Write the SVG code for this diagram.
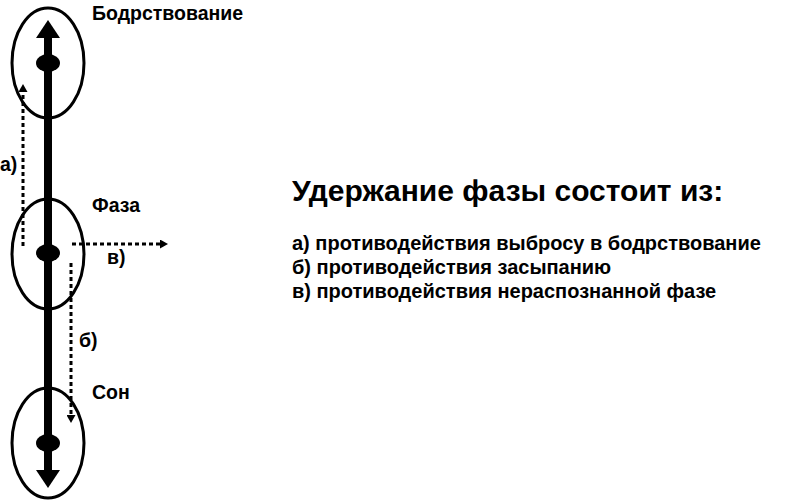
<svg xmlns="http://www.w3.org/2000/svg" width="800" height="500" viewBox="0 0 800 500">
<defs>
<style>
.ell{fill:none;stroke:#000;stroke-width:3}
.dot{fill:#000}
.main{stroke:#000;stroke-width:8;fill:none}
.dash{stroke:#000;stroke-width:3;fill:none;stroke-dasharray:4 3}
.lbl{font-family:"Liberation Sans",Arial,sans-serif;font-weight:bold;font-size:19.5px;fill:#000}
.title{font-family:"Liberation Sans",Arial,sans-serif;font-weight:bold;font-size:30px;fill:#000}
.item{font-family:"Liberation Sans",Arial,sans-serif;font-weight:bold;font-size:20px;fill:#000}
</style>
<marker id="small" markerWidth="8" markerHeight="9" refX="0" refY="4.5" orient="auto" markerUnits="userSpaceOnUse" viewBox="0 0 8 9">
<path d="M0,0 L8,4.5 L0,9 Z" fill="#000"/>
</marker>
</defs>
<rect width="800" height="500" fill="#fff"/>
<g id="connectors">
<line class="main" x1="48" y1="443" x2="48" y2="37"/>
<path d="M48,20 L36,38 L60,38 Z" fill="#000"/>
<line class="main" x1="48" y1="443" x2="48" y2="470"/>
<path d="M48,488 L36,470 L60,470 Z" fill="#000"/>
<line class="dash" x1="23" y1="246" x2="23" y2="92" marker-end="url(#small)"/>
<line class="dash" x1="72" y1="244" x2="160" y2="244" marker-end="url(#small)"/>
<line class="dash" x1="71" y1="263" x2="71" y2="415" marker-end="url(#small)"/>
</g>
<g id="node-wake">
<ellipse class="ell" cx="48" cy="63" rx="36" ry="55"/>
<ellipse class="dot" cx="48" cy="63" rx="12" ry="9"/>
<text class="lbl" x="92" y="20">Бодрствование</text>
</g>
<g id="node-phase">
<ellipse class="ell" cx="48" cy="254" rx="36" ry="55"/>
<ellipse class="dot" cx="48" cy="253" rx="12" ry="9"/>
<text class="lbl" x="92" y="212">Фаза</text>
</g>
<g id="node-sleep">
<ellipse class="ell" cx="48" cy="443" rx="36" ry="55"/>
<ellipse class="dot" cx="48" cy="443" rx="12" ry="9"/>
<text class="lbl" x="92" y="399">Сон</text>
</g>
<g id="edge-labels">
<text class="lbl" x="0" y="171">а)</text>
<text class="lbl" x="107" y="264">в)</text>
<text class="lbl" x="79" y="347">б)</text>
</g>
<g id="legend">
<text class="title" x="292" y="201">Удержание фазы состоит из:</text>
<text class="item" x="292" y="250">а) противодействия выбросу в бодрствование</text>
<text class="item" x="292" y="274">б) противодействия засыпанию</text>
<text class="item" x="292" y="298">в) противодействия нераспознанной фазе</text>
</g>
</svg>
